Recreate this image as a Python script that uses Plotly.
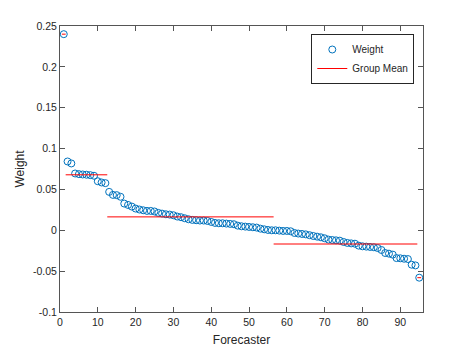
import plotly.graph_objects as go

# forecaster index and weight (sorted descending)
forecaster = list(range(1, 96))
weight = [
    0.240,
    0.0842, 0.0818, 0.0695, 0.0687, 0.0683, 0.0680, 0.0675, 0.0667, 0.0600, 0.0585, 0.0577,
    0.0470, 0.0433, 0.0430, 0.0410, 0.0327, 0.0310, 0.0290, 0.0266, 0.0254, 0.0245,
    0.0237, 0.0237, 0.0230, 0.0213, 0.0204, 0.0196, 0.0192, 0.0184, 0.0168, 0.0160,
    0.0147, 0.0135, 0.0127, 0.0123, 0.0119, 0.0119, 0.0114, 0.0102, 0.0090, 0.0086,
    0.0086, 0.0082, 0.0078, 0.0074, 0.0057, 0.0049, 0.0045, 0.0041, 0.0037, 0.0033,
    0.0020, 0.0012, 0.0004, 0.0000,
    0.0000, -0.0004, -0.0008, -0.0008, -0.0012, -0.0033, -0.0040, -0.0045, -0.0050,
    -0.0060, -0.0070, -0.0078, -0.0086, -0.0098, -0.0114, -0.0119, -0.0123, -0.0127,
    -0.0143, -0.0155, -0.0160, -0.0164, -0.0188, -0.0196, -0.0200, -0.0204, -0.0208,
    -0.0217, -0.0241, -0.0278, -0.0286, -0.0298, -0.0340, -0.0343, -0.0348, -0.0352,
    -0.0421, -0.0430,
    -0.0580,
]

# groups: first and last forecaster of each group, and its mean weight
group_first = [1, 2, 13, 57, 95]
group_last = [1, 12, 56, 94, 95]
group_mean = [0.240, 0.0679, 0.0164, -0.0168, -0.0580]

x_ticks = [0, 10, 20, 30, 40, 50, 60, 70, 80, 90]
y_ticks = [-0.1, -0.05, 0, 0.05, 0.1, 0.15, 0.2, 0.25]
y_tick_text = ["-0.1", "-0.05", "0", "0.05", "0.1", "0.15", "0.2", "0.25"]

mean_x, mean_y = [], []
for a, b, m in zip(group_first, group_last, group_mean):
    mean_x += [a - 0.5, b + 0.5, None]
    mean_y += [m, m, None]

fig = go.Figure()
fig.add_trace(go.Scatter(
    x=forecaster, y=weight, mode="markers", name="Weight",
    marker=dict(symbol="circle-open", size=7, color="#0072BD", line=dict(width=1)),
))
fig.add_trace(go.Scatter(
    x=mean_x, y=mean_y, mode="lines", name="Group Mean",
    line=dict(color="#ff0000", width=1),
))

axis_style = dict(
    showline=True, linecolor="#555", linewidth=1, mirror="ticks",
    ticks="inside", ticklen=5, tickcolor="#555",
    showgrid=False, zeroline=False,
    tickfont=dict(size=10.5, color="#262626"),
)

# the page body adds an 8px offset, so margins are shifted to compensate
fig.update_layout(
    width=467, height=350,
    margin=dict(l=52, r=52, t=18, b=46),
    paper_bgcolor="white", plot_bgcolor="white",
    font=dict(family="Liberation Sans, Arial, sans-serif", color="#262626"),
    xaxis=dict(range=[0, 96], tickvals=x_ticks,
               title=dict(text="Forecaster", font=dict(size=12), standoff=9), **axis_style),
    yaxis=dict(range=[-0.1, 0.25], tickvals=y_ticks, ticktext=y_tick_text,
               title=dict(text="Weight", font=dict(size=12), standoff=5), **axis_style),
    legend=dict(x=0.976, xanchor="right", y=0.972, yanchor="top",
                bgcolor="white", bordercolor="#262626", borderwidth=1,
                font=dict(size=10), tracegroupgap=0),
    showlegend=True,
)

fig.write_html("out.html")
